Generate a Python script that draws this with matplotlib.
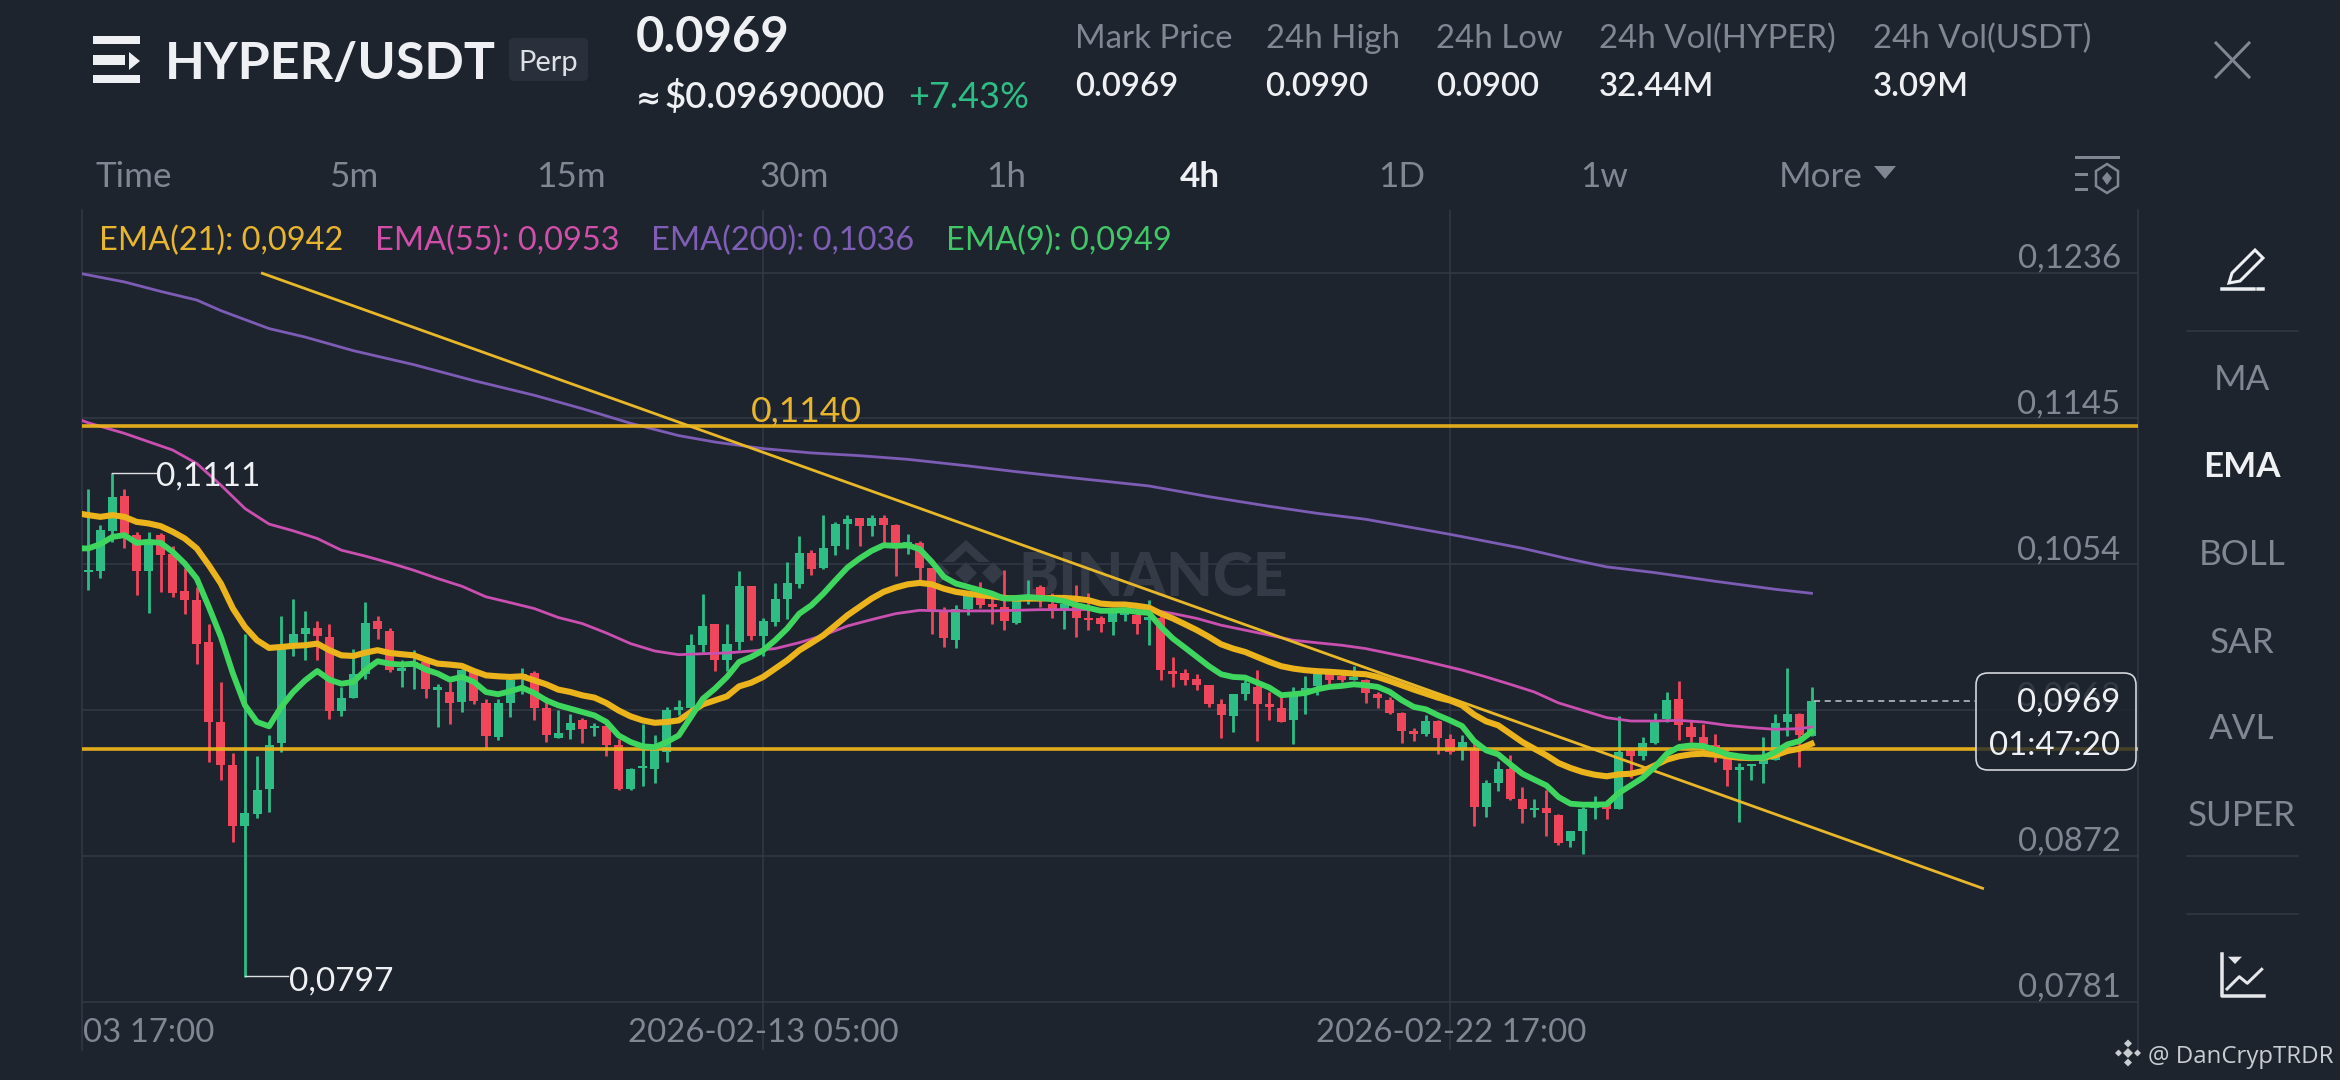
import matplotlib
matplotlib.use("Agg")
import matplotlib.pyplot as plt
from matplotlib.patches import Polygon, Rectangle, FancyBboxPatch
from matplotlib.lines import Line2D
from matplotlib.transforms import Affine2D, blended_transform_factory
import numpy as np

W, H = 2340, 1080
UNIT = 1e5   # prices below are listed in 1/100000 USDT

opens = [10491,10499,10749,10965,10722,10497,10722,10607,10374,10320,10056,9556,9285,8906,8983,9135,9425,10035,10108,10145,
10087,9625,9706,9858,10185,10124,9874,9899,9931,9758,9743,9681,9868,9677,9462,9677,9827,9862,9645,9458,
9504,9566,9520,9529,9410,9139,9268,9264,9368,9633,9645,10034,10166,9941,10055,10405,10091,10180,10326,10415,
10613,10517,10655,10794,10826,10778,10826,10788,10649,10676,10519,10253,10070,10263,10332,10295,10274,10174,10320,10399,
10295,10264,10275,10208,10202,10181,10222,10222,10195,10202,9875,9864,9827,9785,9667,9592,9733,9775,9667,9644,
9567,9733,9779,9854,9844,9821,9816,9733,9696,9615,9498,9483,9562,9452,9379,9389,9025,9177,9265,9073,
9009,9021,8973,8813,8875,9021,9050,9015,9379,9344,9425,9573,9702,9525,9462,9410,9327,9254,9279,9296,
9321,9556,9604,9466]
closes = [10503,10757,10957,10732,10497,10691,10597,10364,10320,10045,9556,9285,8906,8990,9133,9414,10014,10103,10143,10091,
9625,9706,9854,10174,10137,9879,9893,9931,9764,9775,9677,9879,9685,9466,9677,9816,9858,9645,9473,9489,
9551,9514,9531,9410,9139,9264,9281,9383,9633,9649,10034,10155,9941,10045,10405,10091,10186,10326,10426,10613,
10513,10642,10794,10821,10778,10826,10784,10669,10680,10517,10253,10080,10263,10340,10284,10274,10186,10315,10347,10315,
10254,10295,10208,10191,10170,10254,10254,10170,10212,9879,9858,9821,9785,9667,9598,9733,9802,9667,9650,9556,
9723,9771,9854,9821,9816,9837,9737,9708,9612,9498,9479,9562,9456,9369,9431,9025,9175,9265,9073,9015,
9021,8988,8800,8875,9015,9050,9015,9369,9342,9425,9566,9695,9535,9462,9421,9369,9254,9275,9292,9317,
9552,9604,9473,9685]
highs = [11013,10784,11110,11013,10743,10743,10736,10655,10514,10399,10170,9806,9362,10108,9343,9473,10216,10326,10247,10187,
10166,9775,10014,10307,10216,10145,9941,10003,9941,9791,9806,9889,9874,9697,9702,9827,9895,9874,9712,9628,
9608,9583,9549,9535,9451,9270,9545,9472,9649,9691,10103,10357,10166,10166,10499,10405,10205,10426,10555,10715,
10628,10846,10805,10846,10832,10846,10846,10794,10726,10684,10519,10274,10284,10347,10430,10347,10507,10336,10445,10410,
10358,10316,10410,10358,10216,10264,10264,10254,10316,10222,9962,9889,9858,9785,9702,9733,9816,9883,9744,9712,
9775,9843,9858,9858,9858,9904,9827,9744,9712,9619,9519,9598,9567,9483,9473,9431,9192,9312,9352,9150,
9073,9129,8983,8875,9025,9094,9067,9591,9389,9462,9612,9743,9812,9566,9546,9483,9389,9300,9292,9462,
9604,9895,9612,9775]
lows = [10378,10457,10680,10639,10347,10239,10368,10337,10228,9920,9306,9192,8806,7966,8958,8994,9369,9968,9945,9945,
9577,9593,9706,9827,10076,9868,9775,9764,9706,9525,9545,9618,9670,9389,9446,9587,9733,9566,9431,9456,
9451,9424,9466,9343,9133,9133,9156,9175,9306,9597,9628,9993,9874,9874,10003,10066,9966,10155,10201,10395,
10472,10513,10597,10634,10655,10715,10669,10465,10607,10440,10107,10024,10018,10226,10268,10166,10128,10170,10295,10274,
10208,10135,10087,10129,10118,10097,10187,10108,10035,9821,9775,9785,9754,9650,9456,9494,9696,9435,9567,9556,
9417,9608,9727,9796,9806,9816,9675,9646,9604,9425,9435,9469,9358,9354,9317,8904,8963,9125,9067,8927,
8963,8842,8786,8775,8734,8952,8952,9015,9208,9317,9416,9556,9446,9431,9358,9306,9156,8931,9192,9175,
9317,9466,9275,9466]

ema_index = list(range(-1, 144))
ema9 = [10640,10639,10666,10711,10722,10674,10680,10674,10618,10545,10451,10274,10087,9858,9660,9556,9529,9650,9743,9816,
9874,9820,9795,9806,9879,9935,9920,9914,9920,9883,9858,9820,9837,9806,9743,9729,9747,9770,9737,9691,
9660,9639,9618,9597,9556,9472,9431,9404,9399,9431,9472,9587,9701,9764,9837,9930,9962,10003,10066,10139,
10232,10284,10357,10440,10520,10576,10624,10659,10655,10659,10634,10555,10461,10420,10399,10378,10357,10326,10330,10336,
10330,10322,10310,10285,10268,10250,10250,10254,10243,10237,10150,10077,10020,9962,9904,9854,9837,9833,9802,9771,
9723,9729,9737,9760,9775,9781,9791,9785,9775,9744,9692,9650,9635,9598,9566,9531,9437,9379,9354,9292,
9233,9196,9160,9088,9046,9040,9040,9042,9112,9160,9208,9275,9358,9400,9410,9406,9383,9354,9342,9333,
9333,9369,9416,9437,9494]
ema21 = [10860,10847,10836,10847,10836,10805,10795,10778,10743,10701,10639,10534,10420,10264,10149,10066,10018,10024,10031,10035,
10045,10004,9972,9968,9989,10004,9987,9979,9972,9945,9920,9914,9906,9874,9847,9841,9837,9841,9816,9791,
9758,9743,9722,9708,9674,9628,9591,9566,9551,9556,9566,9618,9666,9691,9716,9778,9801,9837,9889,9941,
10003,10049,10097,10159,10222,10274,10326,10368,10395,10415,10424,10415,10388,10368,10357,10347,10340,10330,10326,10326,
10326,10330,10330,10325,10316,10295,10289,10289,10281,10270,10233,10202,10166,10129,10087,10041,10014,9993,9962,9931,
9904,9889,9879,9873,9869,9864,9858,9854,9837,9812,9785,9758,9733,9708,9690,9660,9602,9560,9535,9483,
9431,9389,9348,9300,9269,9244,9227,9217,9229,9233,9250,9285,9321,9342,9354,9358,9352,9342,9333,9331,
9333,9348,9375,9389,9420]

ema55_i = [-1,0,3,5,7,9,11,13,15,17,19,21,23,25,27,29,31,33,35,37,39,41,43,45,47,49,51,53,55,57,59,61,63,65,67,69,71,73,75,77,79,84,88,90,92,94,96,98,100,102,104,106,108,110,112,114,116,118,120,122,124,126,128,130,132,134,136,138,140,142,143]
ema55 = [11450,11423,11357,11305,11253,11169,11034,10888,10791,10749,10701,10628,10591,10549,10503,10451,10403,10337,10301,10264,10208,10170,10111,10045,9999,9976,9982,9987,9999,10014,10051,10097,10155,10195,10232,10253,10249,10249,10249,10253,10257,10258,10258,10233,10202,10160,10129,10098,10066,10050,10035,10014,9983,9952,9916,9880,9837,9791,9743,9675,9629,9583,9562,9562,9566,9556,9535,9521,9510,9514,9525]
ema200_i = [-1,3,6,9,11,15,18,22,27,32,37,41,45,49,52,56,60,64,68,73,77,82,88,93,98,102,106,113,119,123,126,130,135,140,143]
ema200 = [12360,12302,12243,12189,12123,12011,11958,11873,11786,11686,11595,11511,11420,11343,11303,11262,11235,11218,11195,11154,11118,11077,11029,10962,10902,10858,10821,10727,10640,10571,10524,10488,10434,10384,10359]

price_ticks = [0.1236, 0.1145, 0.1054, 0.0963, 0.0872, 0.0781]
price_labels = ["0,1236", "0,1145", "0,1054", "0,0963", "0,0872", "0,0781"]
time_ticks = [-1, 56, 113]
time_labels = ["03 17:00", "2026-02-13 05:00", "2026-02-22 17:00"]
level_prices = [0.1140, 0.09385]
trend_x, trend_y = [14.44, 157.2], [0.12356, 0.08518]
last_price = 0.0969

tabs = ["Time", "5m", "15m", "30m", "1h", "4h", "1D", "1w", "More"]
indicators = ["MA", "EMA", "BOLL", "SAR", "AVL", "SUPER"]
stat_names = ["Mark Price", "24h High", "24h Low", "24h Vol(HYPER)", "24h Vol(USDT)"]
stat_values = ["0.0969", "0.0990", "0.0900", "32.44M", "3.09M"]
legend_items = [("EMA(21): 0,0942", "#E8B52E"), ("EMA(55): 0,0953", "#D04FA8"),
                ("EMA(200): 0,1036", "#7F5FB5"), ("EMA(9): 0,0949", "#41C768")]

BG = "#1E242E"; GRID = "#333A45"; MUTED = "#7F8793"; WHITE = "#EEF0F3"
GREEN = "#2EBD85"; RED = "#F0465C"; AMBER = "#EBB31C"; LIME = "#3FD65F"; PINK = "#C94FB0"; PURPLE = "#7C5CB4"
FONT = "Lato"

fig = plt.figure(figsize=(W / 100, H / 100), dpi=100, facecolor=BG)
PX = Affine2D().scale(1, -1).translate(0, H)

def T(x, y, s, px=30, color=WHITE, ha="left", weight="normal", family=FONT, zorder=5):
    fig.text(x / W, 1 - y / H, s, fontsize=px * 0.72, color=color, ha=ha, va="baseline",
             fontweight=weight, family=family, zorder=zorder)

def L(xs, ys, color=WHITE, lw=2.0, zorder=5, **kw):
    fig.add_artist(Line2D(xs, ys, color=color, lw=lw * 0.72, transform=PX, zorder=zorder, **kw))

def P(pts, color=WHITE, zorder=5, fill=True, lw=2.0):
    fig.add_artist(Polygon(pts, closed=True, transform=PX, zorder=zorder, fill=fill,
                           facecolor=color if fill else "none", edgecolor=color, lw=lw * 0.72 if not fill else 0))

# background watermark
WM = "#343B46"
T(1018, 596, "BINANCE", px=60.5, color=WM, weight="black", zorder=1)
P([(966, 540), (990, 562), (978, 562), (966, 551), (954, 562), (942, 562)], WM, zorder=1)
for cx, cy in [(966, 573), (993, 573), (939, 573)]:
    P([(cx, cy - 11), (cx + 11, cy), (cx, cy + 11), (cx - 11, cy)], WM, zorder=1)

ax = fig.add_axes([82.3 / W, 1 - 1050 / H, (2137.7 - 82.3) / W, (1050 - 210) / H], zorder=2)
ax.set_facecolor("none")
ax.set_xlim(-0.5, 170.07)
ax.set_ylim(0.07509, 0.12751)
for s in ("top", "bottom"):
    ax.spines[s].set_visible(False)
for s in ("left", "right"):
    ax.spines[s].set_color(GRID); ax.spines[s].set_linewidth(1.1)
ax.set_yticks(price_ticks); ax.set_xticks(time_ticks[1:])
ax.tick_params(length=0, labelleft=False, labelbottom=False)
ax.grid(True, color=GRID, lw=1.1)
ax.set_axisbelow(True)

idx = np.arange(len(opens))
o, c, h, l = [np.array(a) / UNIT for a in (opens, closes, highs, lows)]
col = [GREEN if b >= a else RED for a, b in zip(o, c)]
ax.vlines(idx, l, h, colors=col, lw=2.0, zorder=2)
ax.bar(idx, np.abs(c - o), bottom=np.minimum(o, c), width=0.75, color=col, zorder=2)

ax.plot(ema200_i, np.array(ema200) / UNIT, color=PURPLE, lw=2.0, zorder=3, solid_joinstyle="round")
ax.plot(ema55_i, np.array(ema55) / UNIT, color=PINK, lw=2.0, zorder=3, solid_joinstyle="round")
for p in level_prices:
    ax.axhline(p, color=AMBER, lw=2.6, zorder=3.5, alpha=0.95)
ax.plot(trend_x, trend_y, color="#E8B82A", lw=2.0, zorder=3.5)
ax.plot(ema_index, np.array(ema21) / UNIT, color=AMBER, lw=4.4, zorder=4, solid_joinstyle="round")
ax.plot(ema_index, np.array(ema9) / UNIT, color=LIME, lw=4.2, zorder=4.2, solid_joinstyle="round")

# extreme leaders and last price
ax.plot([2, 5.6], [0.1111, 0.1111], color="#DDE0E4", lw=1.0, zorder=4.5)
ax.plot([13, 16.6], [0.0797, 0.0797], color="#DDE0E4", lw=1.0, zorder=4.5)
ax.plot([143.2, 156.6], [last_price, last_price], color="#C4C8CE", lw=1.1, ls=(0, (4, 3)), zorder=4.5)

def ann(x, y, s, dx, dy, ha="left", color=WHITE, px=31, z=6):
    ax.annotate(s, xy=(x, y), xycoords="data", xytext=(dx * 0.72, dy * 0.72), textcoords="offset points",
                ha=ha, va="baseline", color=color, fontsize=px * 0.72, family=FONT, zorder=z)

ann(5.65, 0.1111, "0,1111", 0, -13, px=33.5)
ann(16.65, 0.0797, "0,0797", 0, -14, px=33.5)
ann(55.0, 0.1140, "0,1140", 0, 5, color="#E8B52E", px=35.5)

tr = blended_transform_factory(ax.transAxes, ax.transData)
for p, s in zip(price_ticks, price_labels):
    ax.annotate(s, xy=(1, p), xycoords=tr, xytext=(-17 * 0.72, 5 * 0.72), textcoords="offset points",
                ha="right", va="baseline", color=MUTED, fontsize=33 * 0.72, family=FONT, zorder=3)

# x labels
T(83, 1042, time_labels[0], px=33, color=MUTED)
T(763.7, 1042, time_labels[1], px=33, color=MUTED, ha="center")
T(1451, 1042, time_labels[2], px=33, color=MUTED, ha="center")

# last-price box
fig.add_artist(FancyBboxPatch((1986, 683), 140, 77, boxstyle="round,pad=10,rounding_size=12", transform=PX,
                              facecolor=BG, alpha=0.78, edgecolor="none", zorder=4))
fig.add_artist(FancyBboxPatch((1986, 683), 140, 77, boxstyle="round,pad=10,rounding_size=12", transform=PX,
                              facecolor="none", edgecolor="#D3D6DB", lw=1.2, zorder=5))
T(2120.5, 712, "0,0969", px=33, ha="right")
T(2120.5, 755, "01:47:20", px=33, ha="right")

# header
for y0, y1, x1 in [(36, 44, 140), (55, 65, 125), (75, 83, 140)]:
    fig.add_artist(Rectangle((93, y0), x1 - 93, y1 - y0, transform=PX, color=WHITE, lw=0, zorder=5))
P([(129, 52), (140, 61), (129, 70)], WHITE)
T(165, 79, "HYPER/USDT", px=52, weight="bold")
fig.add_artist(FancyBboxPatch((513, 42), 71, 35, boxstyle="round,pad=4,rounding_size=5", transform=PX,
                              facecolor="#2A303B", edgecolor="none", zorder=4))
T(548.5, 71, "Perp", px=29, ha="center", color="#DDE0E4")
T(636, 52, "0.0969", px=49, weight="bold")
T(636, 108, "≈", px=30, weight="bold", family=["DejaVu Sans"])
T(664, 108, "$0.09690000", px=36.5, weight="semibold")
T(908, 108, "+7.43%", px=36, color=GREEN)
for x, a, b in zip([1075, 1265.5, 1436, 1599, 1873], stat_names, stat_values):
    T(x, 48.5, a, px=33, color=MUTED)
    T(x, 96, b, px=33, weight="semibold")
L([2216, 2249], [43, 77], MUTED, 3); L([2249, 2216], [43, 77], MUTED, 3)

# tabs
for x, s in zip([96, 330, 536, 759, 986, 1180, 1378, 1580, 1779], tabs):
    active = s == "4h"
    T(x, 187, s, px=35, color=WHITE if active else MUTED, weight="bold" if active else "normal")
P([(1874, 166), (1896, 166), (1885, 179)], MUTED)
L([2076, 2118], [156.5, 156.5], MUTED, 3)
L([2076, 2086], [174, 174], MUTED, 3); L([2076, 2086], [189, 189], MUTED, 3)
P([(2107, 164), (2118, 171), (2118, 186), (2107, 193), (2096, 186), (2096, 171)], MUTED, fill=False, lw=2.5)
P([(2107, 172), (2112, 178), (2107, 185), (2102, 178)], MUTED)

# legend
for x, (s, color) in zip([99, 375, 651, 946], legend_items):
    T(x, 250, s, px=32.5, color=color)

# right rail
for y, s in zip([390, 477, 565.3, 652.7, 739, 826], indicators):
    active = s == "EMA"
    T(2242, y, s, px=35, color=WHITE if active else MUTED, ha="center", weight="bold" if active else "normal")
for y in [330.7, 856, 914]:
    L([2187, 2298], [y, y], GRID, 1.5)
P([(2229, 283), (2232, 273), (2255, 250), (2263, 258), (2240, 281)], WHITE, fill=False, lw=3)
L([2222, 2254], [289, 289], WHITE, 3.5); L([2258, 2263], [289, 289], WHITE, 3.5)
C = "#E5E7EB"
L([2222, 2222, 2264], [954, 996, 996], C, 3.5)
L([2227, 2239.3, 2247.3, 2261.7], [989, 976.7, 983.3, 969.3], C, 3)
P([(2228, 956.7), (2242, 956.7), (2235, 964)], C)

# credit
for cx, cy, r in [(2128, 1053, 5), (2128, 1043.5, 4), (2128, 1062.5, 4), (2118.5, 1053, 3.5), (2137.5, 1053, 3.5)]:
    P([(cx, cy - r), (cx + r, cy), (cx, cy + r), (cx - r, cy)], "#C9CCD1")
T(2148, 1062.7, "@ DanCrypTRDR", px=24, color="#C9CCD1", family="Open Sans")

fig.savefig("out.png", dpi=100, facecolor=BG)
